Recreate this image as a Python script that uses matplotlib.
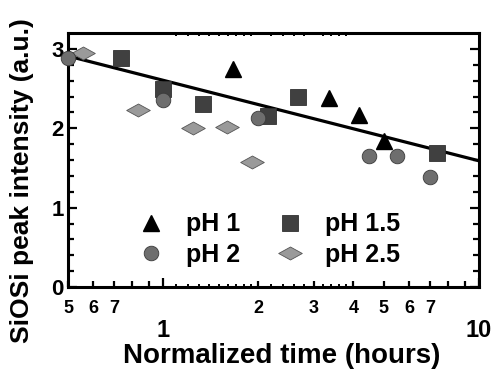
import matplotlib
matplotlib.use("Agg")
import matplotlib.pyplot as plt
import numpy as np
from matplotlib.path import Path
from matplotlib.ticker import FixedLocator, FixedFormatter, NullLocator

plt.rcParams['font.family'] = ['Liberation Sans', 'DejaVu Sans']
plt.rcParams['font.weight'] = 'bold'

# Data
ph1_x = [1.67, 3.34, 4.18, 5.0]
ph1_y = [2.75, 2.38, 2.17, 1.84]
ph15_x = [0.735, 1.0, 1.335, 2.15, 2.67, 7.35]
ph15_y = [2.88, 2.50, 2.31, 2.15, 2.39, 1.69]
ph2_x = [0.5, 1.0, 2.0, 4.5, 5.49, 7.0]
ph2_y = [2.88, 2.36, 2.13, 1.65, 1.65, 1.39]
ph25_x = [0.557, 0.835, 1.247, 1.598, 1.908]
ph25_y = [2.95, 2.23, 2.00, 2.02, 1.58]
fit_x = [0.5, 10]
fit_y = [2.91, 1.59]

major_x = [1, 10]
major_x_labels = ['1', '10']
minor_x = [0.5, 0.6, 0.7, 0.8, 0.9, 2, 3, 4, 5, 6, 7, 8, 9]
minor_x_labels = ['5', '6', '7', '', '', '2', '3', '4', '5', '6', '7', '', '']
subminor_x = [1.1, 1.2, 1.3, 1.4, 1.5, 1.6, 1.7, 1.8, 1.9,
              2.2, 2.4, 2.6, 2.8, 3.2, 3.4, 3.6, 3.8]
major_y = [0, 1, 2, 3]
minor_y = [0.2, 0.4, 0.6, 0.8, 1.2, 1.4, 1.6, 1.8, 2.2, 2.4, 2.6, 2.8, 3.0]

fig = plt.figure(figsize=(4.97, 3.71), dpi=100)
ax = fig.add_axes([0.1368, 0.2264, 0.827, 0.6846])

diamond = Path([(-1, 0), (0, 0.55), (1, 0), (0, -0.55), (-1, 0)],
               [Path.MOVETO, Path.LINETO, Path.LINETO, Path.LINETO, Path.CLOSEPOLY])

ax.plot(fit_x, fit_y, color='black', lw=2.3, zorder=2)
h1, = ax.plot(ph1_x, ph1_y, ls='none', marker='^', ms=12, color='black',
              mec='black', zorder=3, label='pH 1', clip_on=False)
h15, = ax.plot(ph15_x, ph15_y, ls='none', marker='s', ms=11, color='#404040',
               mec='#303030', mew=0.6, zorder=3, label='pH 1.5', clip_on=False)
h2, = ax.plot(ph2_x, ph2_y, ls='none', marker='o', ms=10.5, color='#6e6e6e',
              mec='#3a3a3a', mew=0.6, zorder=4, label='pH 2', clip_on=False)
h25, = ax.plot(ph25_x, ph25_y, ls='none', marker=diamond, ms=17, color='#9a9a9a',
               mec='#555555', mew=0.6, zorder=3, label='pH 2.5', clip_on=False)

ax.set_xscale('log')
ax.set_xlim(0.5, 10)
ax.set_ylim(0, 3.2)

ax.xaxis.set_major_locator(FixedLocator(major_x))
ax.xaxis.set_major_formatter(FixedFormatter(major_x_labels))
ax.xaxis.set_minor_locator(FixedLocator(minor_x))
ax.xaxis.set_minor_formatter(FixedFormatter(minor_x_labels))
ax.yaxis.set_major_locator(FixedLocator(major_y))
ax.yaxis.set_minor_locator(FixedLocator(minor_y))

for s in ax.spines.values():
    s.set_linewidth(2.2)

ax.tick_params(which='both', direction='in', top=True, right=True, width=1.6)
ax.tick_params(which='major', length=6.5)
ax.tick_params(which='minor', length=4)
ax.tick_params(axis='x', which='major', labelsize=17, pad=23)
ax.tick_params(axis='x', which='minor', labelsize=13, pad=9)
ax.tick_params(axis='y', which='major', labelsize=16, pad=3)
for lab in ax.get_xticklabels(which='both') + ax.get_yticklabels():
    lab.set_fontweight('bold')

ax2 = ax.twiny()
ax2.set_xscale('log')
ax2.set_xlim(0.5, 10)
ax2.xaxis.set_major_locator(FixedLocator(subminor_x))
ax2.xaxis.set_minor_locator(NullLocator())
ax2.tick_params(which='both', direction='in', bottom=True, top=True,
                labelbottom=False, labeltop=False, length=2.5, width=1.4)
for s in ax2.spines.values():
    s.set_visible(False)

ax.set_xlabel('Normalized time (hours)', fontsize=20, fontweight='bold')
ax.set_ylabel('SiOSi peak intensity (a.u.)', fontsize=19, fontweight='bold')
ax.xaxis.set_label_coords(0.5207, -0.2717)
ax.xaxis.label.set_va('center')
ax.yaxis.set_label_coords(-0.1119, 0.421)
ax.yaxis.label.set_va('center')
ax.yaxis.label.set_ha('center')

leg = ax.legend(handles=[h1, h2, h15, h25], ncol=2, loc='lower center',
                bbox_to_anchor=(0.48, -0.01), frameon=False,
                prop={'size': 18, 'weight': 'bold'}, handletextpad=0.6,
                columnspacing=1.2, labelspacing=0.27, handlelength=1.6)

fig.savefig('out.png', dpi=100)
